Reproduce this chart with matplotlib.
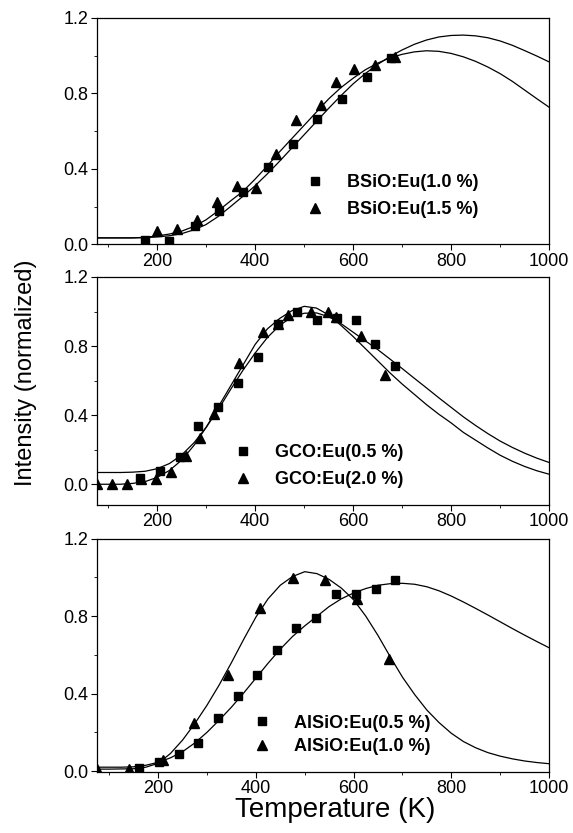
import numpy as np
import matplotlib
matplotlib.use("Agg")
import matplotlib.pyplot as plt
from matplotlib.ticker import MultipleLocator

plt.rcParams['font.family'] = ['Liberation Sans', 'DejaVu Sans']

# --- BSiO panel ---
bsio_sq_T = [176, 225, 277, 327, 376, 427, 477, 527, 578, 628, 678]
bsio_sq_I = [0.023, 0.02, 0.097, 0.176, 0.28, 0.41, 0.534, 0.667, 0.772, 0.887, 0.99]
bsio_tr_T = [201, 242, 281, 322, 363, 403, 444, 483, 534, 565, 603, 644, 685]
bsio_tr_I = [0.074, 0.08, 0.13, 0.224, 0.31, 0.30, 0.48, 0.66, 0.737, 0.86, 0.93, 0.952, 0.993]

# --- GCO panel ---
gco_sq_T = [164, 205, 246, 283, 324, 364, 406, 447, 485, 526, 566, 605, 645, 685]
gco_sq_I = [0.039, 0.077, 0.16, 0.34, 0.45, 0.584, 0.735, 0.93, 0.996, 0.948, 0.963, 0.95, 0.81, 0.687]
gco_tr_T = [78, 107, 138, 166, 198, 229, 259, 288, 316, 366, 415, 447, 467, 514, 548, 565, 616, 665]
gco_tr_I = [0.0, 0.0, 0.0, 0.03, 0.033, 0.068, 0.164, 0.27, 0.406, 0.70, 0.88, 0.93, 0.977, 1.0, 0.996, 0.97, 0.86, 0.63]

# --- AlSiO panel ---
alsio_sq_T = [161, 201, 243, 282, 323, 363, 403, 443, 483, 524, 565, 604, 645, 685]
alsio_sq_I = [0.016, 0.047, 0.09, 0.145, 0.274, 0.388, 0.495, 0.624, 0.741, 0.79, 0.917, 0.917, 0.943, 0.986]
alsio_tr_T = [75, 141, 209, 273, 342, 409, 475, 541, 607, 672]
alsio_tr_I = [0.01, 0.01, 0.055, 0.25, 0.495, 0.84, 0.995, 0.986, 0.89, 0.58]

# fitted curves, every 25 K
fit_T = [75, 100, 125, 150, 175, 200, 225, 250, 275, 300, 325, 350, 375, 400, 425, 450, 475, 500,
         525, 550, 575, 600, 625, 650, 675, 700, 725, 750, 775, 800, 825, 850, 875, 900, 925, 950, 975, 1000]
bsio_fit_sq = [0.035, 0.035, 0.035, 0.035, 0.036, 0.04, 0.046, 0.057, 0.077, 0.105, 0.148, 0.2, 0.254, 0.31,
               0.373, 0.44, 0.51, 0.58, 0.65, 0.72, 0.787, 0.85, 0.905, 0.953, 0.995, 1.03, 1.06, 1.083,
               1.099, 1.107, 1.109, 1.105, 1.095, 1.078, 1.055, 1.027, 0.998, 0.967]
bsio_fit_tr = [0.035, 0.035, 0.035, 0.035, 0.038, 0.045, 0.055, 0.07, 0.095, 0.13, 0.178, 0.23, 0.28, 0.345,
               0.415, 0.49, 0.56, 0.63, 0.70, 0.77, 0.83, 0.88, 0.925, 0.96, 0.988, 1.007, 1.02, 1.026,
               1.023, 1.012, 0.994, 0.97, 0.94, 0.905, 0.864, 0.818, 0.772, 0.727]
gco_fit_sq = [0.068, 0.068, 0.068, 0.07, 0.075, 0.09, 0.12, 0.17, 0.24, 0.33, 0.435, 0.55, 0.66, 0.76,
              0.85, 0.92, 0.968, 0.99, 0.992, 0.97, 0.93, 0.88, 0.83, 0.78, 0.725, 0.67, 0.613, 0.557,
              0.50, 0.445, 0.39, 0.34, 0.293, 0.25, 0.213, 0.18, 0.151, 0.126]
gco_fit_tr = [0.0, 0.0, 0.0, 0.005, 0.015, 0.04, 0.08, 0.14, 0.225, 0.33, 0.45, 0.57, 0.69, 0.81,
              0.90, 0.96, 1.005, 1.03, 1.02, 0.98, 0.92, 0.855, 0.785, 0.715, 0.645, 0.58, 0.52, 0.46,
              0.405, 0.355, 0.30, 0.255, 0.21, 0.168, 0.133, 0.103, 0.078, 0.058]
alsio_fit_sq = [0.02, 0.02, 0.02, 0.022, 0.03, 0.045, 0.068, 0.10, 0.145, 0.20, 0.263, 0.33, 0.403, 0.48,
                0.557, 0.63, 0.695, 0.75, 0.80, 0.85, 0.89, 0.92, 0.943, 0.96, 0.968, 0.97, 0.965, 0.952,
                0.931, 0.904, 0.873, 0.84, 0.806, 0.771, 0.736, 0.702, 0.669, 0.637]
alsio_fit_tr = [0.01, 0.01, 0.011, 0.012, 0.02, 0.04, 0.09, 0.16, 0.245, 0.34, 0.445, 0.56, 0.68, 0.795,
                0.89, 0.96, 1.005, 1.03, 1.02, 0.99, 0.945, 0.885, 0.80, 0.70, 0.59, 0.485, 0.395, 0.315,
                0.25, 0.195, 0.152, 0.12, 0.095, 0.077, 0.063, 0.052, 0.044, 0.038]

panels = [
    dict(sq=(bsio_sq_T, bsio_sq_I), tr=(bsio_tr_T, bsio_tr_I), fits=(bsio_fit_sq, bsio_fit_tr),
         labels=("BSiO:Eu(1.0 %)", "BSiO:Eu(1.5 %)"), rect=[0.1693, 0.7065, 0.789, 0.272],
         xlim=(78, 1000), ylim=(0, 1.2), leg=(0.462, 0.214), sp=0.55),
    dict(sq=(gco_sq_T, gco_sq_I), tr=(gco_tr_T, gco_tr_I), fits=(gco_fit_sq, gco_fit_tr),
         labels=("GCO:Eu(0.5 %)", "GCO:Eu(2.0 %)"), rect=[0.1693, 0.3938, 0.789, 0.2737],
         xlim=(77, 1000), ylim=(-0.12, 1.2), leg=(0.303, 0.170), sp=0.55),
    dict(sq=(alsio_sq_T, alsio_sq_I), tr=(alsio_tr_T, alsio_tr_I), fits=(alsio_fit_sq, alsio_fit_tr),
         labels=("AlSiO:Eu(0.5 %)", "AlSiO:Eu(1.0 %)"), rect=[0.1693, 0.0732, 0.789, 0.280],
         xlim=(75, 1000), ylim=(-0.005, 1.2), leg=(0.345, 0.159), sp=0.35),
]

fig = plt.figure(figsize=(5.73, 8.33), dpi=100)

for p in panels:
    ax = fig.add_axes(p["rect"])
    ax.plot(fit_T, p["fits"][0], color="black", lw=0.9)
    ax.plot(fit_T, p["fits"][1], color="black", lw=0.9)
    h1, = ax.plot(*p["sq"], "s", color="black", ms=5.5, ls="none", label=p["labels"][0])
    h2, = ax.plot(*p["tr"], "^", color="black", ms=6.5, ls="none", label=p["labels"][1])
    ax.set_xlim(*p["xlim"])
    ax.set_ylim(*p["ylim"])
    ax.xaxis.set_major_locator(MultipleLocator(200))
    ax.xaxis.set_minor_locator(MultipleLocator(100))
    ax.yaxis.set_minor_locator(MultipleLocator(0.2))
    ax.set_yticks([0.0, 0.4, 0.8, 1.2])
    ax.set_yticklabels(["0.0", "0.4", "0.8", "1.2"])
    ax.tick_params(which="major", direction="out", length=4, width=0.8, labelsize=13, pad=2)
    ax.tick_params(which="minor", direction="out", length=2, width=0.6)
    for s in ax.spines.values():
        s.set_linewidth(0.9)
    ax.legend(handles=[h1, h2], loc="center left", bbox_to_anchor=p["leg"], frameon=False,
              numpoints=1, handlelength=1.0, handletextpad=1.25, labelspacing=p["sp"],
              borderpad=0, borderaxespad=0, prop=dict(size=13, weight="bold"))

fig.text(0.585, 0.028, "Temperature (K)", ha="center", va="center", fontsize=20)
fig.text(0.045, 0.553, "Intensity (normalized)", ha="center", va="center", rotation=90, fontsize=17)

fig.savefig("out.png", dpi=100)
